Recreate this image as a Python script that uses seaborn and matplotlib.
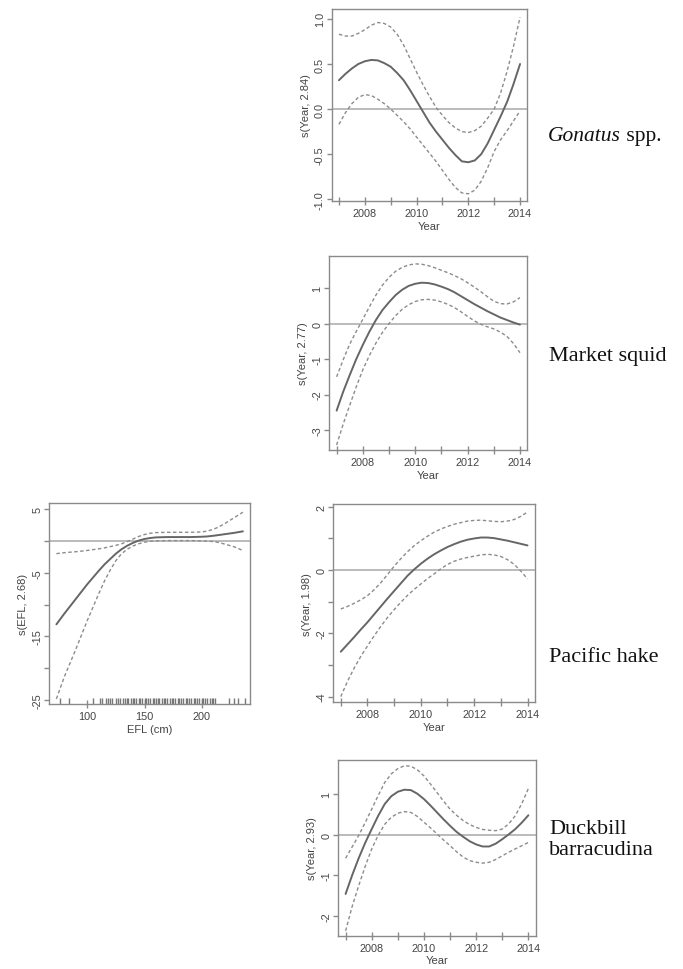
import matplotlib
matplotlib.use("Agg")
import matplotlib.pyplot as plt
import seaborn as sns

# GAM partial effect curves (fit, upper and lower 95% band)
YEARS = [2007, 2007.25, 2007.5, 2007.75, 2008, 2008.25, 2008.5, 2008.75,
         2009, 2009.25, 2009.5, 2009.75, 2010, 2010.25, 2010.5, 2010.75,
         2011, 2011.25, 2011.5, 2011.75, 2012, 2012.25, 2012.5, 2012.75,
         2013, 2013.25, 2013.5, 2013.75, 2014]

gonatus_fit = [0.32, 0.39, 0.45, 0.50, 0.53, 0.545, 0.54, 0.51, 0.47, 0.40, 0.32, 0.21, 0.09, -0.03,
               -0.15, -0.25, -0.34, -0.43, -0.51, -0.58, -0.59, -0.57, -0.50, -0.38, -0.23, -0.08,
               0.08, 0.28, 0.50]
gonatus_up = [0.83, 0.81, 0.81, 0.84, 0.88, 0.93, 0.96, 0.95, 0.91, 0.83, 0.71, 0.56, 0.41, 0.27,
              0.14, 0.02, -0.07, -0.15, -0.21, -0.25, -0.26, -0.24, -0.19, -0.10, 0.00, 0.18,
              0.42, 0.70, 1.02]
gonatus_lo = [-0.17, -0.04, 0.06, 0.13, 0.16, 0.15, 0.11, 0.06, 0.00, -0.07, -0.14, -0.22, -0.31,
              -0.40, -0.49, -0.58, -0.68, -0.78, -0.87, -0.93, -0.94, -0.90, -0.80, -0.65, -0.47,
              -0.34, -0.24, -0.13, -0.02]

squid_fit = [-2.45, -1.92, -1.45, -1.00, -0.60, -0.23, 0.10, 0.38, 0.60, 0.80, 0.95, 1.06, 1.12,
             1.15, 1.14, 1.10, 1.04, 0.97, 0.88, 0.77, 0.66, 0.55, 0.45, 0.35, 0.26, 0.17, 0.10,
             0.03, -0.03]
squid_up = [-1.50, -1.02, -0.58, -0.22, 0.12, 0.47, 0.80, 1.08, 1.30, 1.47, 1.58, 1.65, 1.68, 1.67,
            1.63, 1.57, 1.50, 1.43, 1.35, 1.26, 1.15, 1.03, 0.90, 0.76, 0.63, 0.56, 0.55, 0.61, 0.73]
squid_lo = [-3.42, -2.83, -2.30, -1.78, -1.30, -0.90, -0.55, -0.25, 0.00, 0.22, 0.40, 0.53, 0.62,
            0.67, 0.68, 0.66, 0.61, 0.54, 0.45, 0.33, 0.20, 0.08, -0.02, -0.09, -0.15, -0.24,
            -0.36, -0.56, -0.82]

hake_fit = [-2.58, -2.35, -2.12, -1.88, -1.65, -1.40, -1.15, -0.90, -0.66, -0.42, -0.18, 0.02,
            0.20, 0.36, 0.50, 0.62, 0.73, 0.82, 0.90, 0.96, 1.00, 1.03, 1.03, 1.01, 0.97, 0.93,
            0.88, 0.83, 0.78]
hake_up = [-1.23, -1.15, -1.05, -0.94, -0.81, -0.62, -0.40, -0.14, 0.12, 0.36, 0.58, 0.77, 0.93,
           1.07, 1.20, 1.30, 1.38, 1.45, 1.50, 1.55, 1.57, 1.58, 1.56, 1.54, 1.53, 1.55, 1.60,
           1.70, 1.84]
hake_lo = [-4.00, -3.52, -3.10, -2.73, -2.40, -2.08, -1.78, -1.50, -1.25, -1.02, -0.80, -0.61,
           -0.44, -0.27, -0.12, 0.04, 0.18, 0.28, 0.35, 0.40, 0.44, 0.48, 0.50, 0.48, 0.43, 0.33,
           0.18, -0.03, -0.28]

duck_fit = [-1.46, -1.00, -0.58, -0.20, 0.14, 0.47, 0.76, 0.95, 1.06, 1.11, 1.10, 1.01, 0.88,
            0.72, 0.55, 0.38, 0.22, 0.07, -0.05, -0.16, -0.24, -0.29, -0.29, -0.22, -0.11, 0.01,
            0.14, 0.30, 0.48]
duck_up = [-0.58, -0.30, -0.02, 0.30, 0.63, 0.97, 1.29, 1.50, 1.63, 1.70, 1.69, 1.60, 1.45, 1.25,
           1.04, 0.83, 0.63, 0.48, 0.35, 0.25, 0.18, 0.13, 0.11, 0.10, 0.14, 0.27, 0.47, 0.77, 1.14]
duck_lo = [-2.37, -1.77, -1.26, -0.78, -0.35, -0.01, 0.26, 0.43, 0.53, 0.57, 0.55, 0.45, 0.31,
           0.17, 0.02, -0.13, -0.27, -0.42, -0.55, -0.64, -0.68, -0.70, -0.68, -0.61, -0.52,
           -0.43, -0.35, -0.27, -0.19]

EFL = [73, 80, 90, 100, 110, 115, 120, 125, 130, 135, 140, 145, 150, 155, 160, 170, 180, 190,
       200, 205, 210, 215, 220, 228, 236]
efl_fit = [-13.1, -11.4, -9.1, -6.8, -4.7, -3.7, -2.85, -2.0, -1.3, -0.75, -0.3, 0.05, 0.3, 0.45,
           0.55, 0.6, 0.6, 0.6, 0.65, 0.7, 0.8, 0.92, 1.05, 1.25, 1.5]
efl_up = [-2.0, -1.85, -1.7, -1.5, -1.25, -1.1, -0.9, -0.7, -0.45, -0.1, 0.3, 0.7, 1.0, 1.2, 1.3,
          1.35, 1.35, 1.35, 1.4, 1.55, 1.8, 2.2, 2.7, 3.6, 4.5]
efl_lo = [-24.8, -21.3, -17.0, -12.5, -8.3, -6.3, -4.6, -3.1, -2.0, -1.3, -0.8, -0.45, -0.2, -0.05,
          0.0, 0.05, 0.05, 0.05, 0.0, -0.05, -0.1, -0.25, -0.5, -0.9, -1.5]
efl_rug = [76, 84, 105, 111, 113, 116, 118, 120, 122, 125, 127, 129, 131, 133, 135, 136, 138,
           140, 141, 143, 145, 146, 148, 150, 151, 153, 155, 157, 158, 160, 162, 163, 165, 167,
           168, 170, 172, 174, 175, 177, 179, 180, 182, 184, 186, 187, 189, 191, 193, 194, 196,
           198, 200, 201, 203, 205, 207, 209, 210, 212, 224, 228, 232, 238]

species = ["Market squid", "Pacific hake", "Duckbill\nbarracudina"]

sns.set_theme(style="white")
plt.rcParams["font.family"] = ["Liberation Sans", "DejaVu Sans"]

W, H = 683, 970
fig = plt.figure(figsize=(W / 100, H / 100), dpi=100)

BOX = "#8a8a8a"
TXT = "#444444"
FIT = "#666666"
BAND = "#8c8c8c"


def panel(l, t, r, b):
    return fig.add_axes([l / W, 1 - b / H, (r - l) / W, (b - t) / H])


def draw(ax, x, fit, up, lo, xlim, ylim, yticks, ylabels, xticks, xlabels, ylab, xlab):
    ax.axhline(0, color="#a8a8a8", lw=1.1, zorder=1)
    sns.lineplot(x=x, y=fit, ax=ax, color=FIT, lw=1.4)
    sns.lineplot(x=x, y=up, ax=ax, color=BAND, lw=1.0, linestyle=(0, (2.5, 1.8)))
    sns.lineplot(x=x, y=lo, ax=ax, color=BAND, lw=1.0, linestyle=(0, (2.5, 1.8)))
    ax.set_xlim(*xlim)
    ax.set_ylim(*ylim)
    ax.set_yticks(yticks)
    ax.set_yticklabels(ylabels, rotation=90, va="center")
    ax.set_xticks(xticks)
    ax.set_xticklabels(xlabels)
    for s in ax.spines.values():
        s.set_color(BOX)
        s.set_linewidth(1.0)
    ax.tick_params(axis="x", direction="inout", length=6, width=1, color=BOX,
                   labelsize=7.8, labelcolor=TXT, pad=2, bottom=True)
    ax.tick_params(axis="y", direction="out", length=3.5, width=1, color=BOX,
                   labelsize=7.8, labelcolor=TXT, pad=1.5, left=True)
    ax.set_ylabel(ylab, fontsize=8, color=TXT, labelpad=3)
    ax.set_xlabel(xlab, fontsize=8, color=TXT, labelpad=2)


year_ticks = [2007, 2008, 2009, 2010, 2011, 2012, 2013, 2014]
year_labels = ["", "2008", "", "2010", "", "2012", "", "2014"]
xl = (2006.72, 2014.28)

ax1 = panel(331.7, 10, 527.3, 202)
draw(ax1, YEARS, gonatus_fit, gonatus_up, gonatus_lo, xl, (-1.02, 1.11),
     [-1.0, -0.5, 0.0, 0.5, 1.0], ["-1.0", "-0.5", "0.0", "0.5", "1.0"],
     year_ticks, year_labels, "s(Year, 2.84)", "Year")

ax2 = panel(329.3, 256.7, 527.3, 451)
draw(ax2, YEARS, squid_fit, squid_up, squid_lo, xl, (-3.56, 1.91),
     [-3, -2, -1, 0, 1], ["-3", "-2", "-1", "0", "1"],
     year_ticks, year_labels, "s(Year, 2.77)", "Year")

ax3 = panel(49.3, 504.3, 250, 705)
draw(ax3, EFL, efl_fit, efl_up, efl_lo, (66.8, 242.2), (-25.6, 5.9),
     [-25, -20, -15, -10, -5, 0, 5], ["-25", "", "-15", "", "-5", "", "5"],
     [100, 150, 200], ["100", "150", "200"], "s(EFL, 2.68)", "EFL (cm)")
sns.rugplot(x=efl_rug, ax=ax3, height=0.028, color="#777777", lw=0.9)

ax4 = panel(333.3, 505, 535, 703.3)
draw(ax4, YEARS, hake_fit, hake_up, hake_lo, xl, (-4.18, 2.09),
     [-4, -3, -2, -1, 0, 1, 2], ["-4", "", "-2", "", "0", "", "2"],
     year_ticks, year_labels, "s(Year, 1.98)", "Year")

ax5 = panel(338.3, 760.7, 535.7, 936.7)
draw(ax5, YEARS, duck_fit, duck_up, duck_lo, xl, (-2.49, 1.85),
     [-2, -1, 0, 1], ["-2", "-1", "0", "1"],
     year_ticks, year_labels, "s(Year, 2.93)", "Year")

# species names on the right
serif = ["Liberation Serif", "DejaVu Serif"]
t1 = fig.text(548 / W, 1 - 137 / H, "Gonatus", family=serif, style="italic",
              fontsize=15.5, va="center", ha="left", color="#111111")
fig.canvas.draw()
bb = t1.get_window_extent(renderer=fig.canvas.get_renderer())
fig.text(bb.x1 / W, 1 - 137 / H, " spp.", family=serif, fontsize=15.5,
         va="center", ha="left", color="#111111")
for name, y in zip(species, [357, 657, 840]):
    fig.text(549 / W, 1 - y / H, name, family=serif, fontsize=16, va="center",
             ha="left", linespacing=1.2, color="#111111")

fig.savefig("out.png", dpi=100)
